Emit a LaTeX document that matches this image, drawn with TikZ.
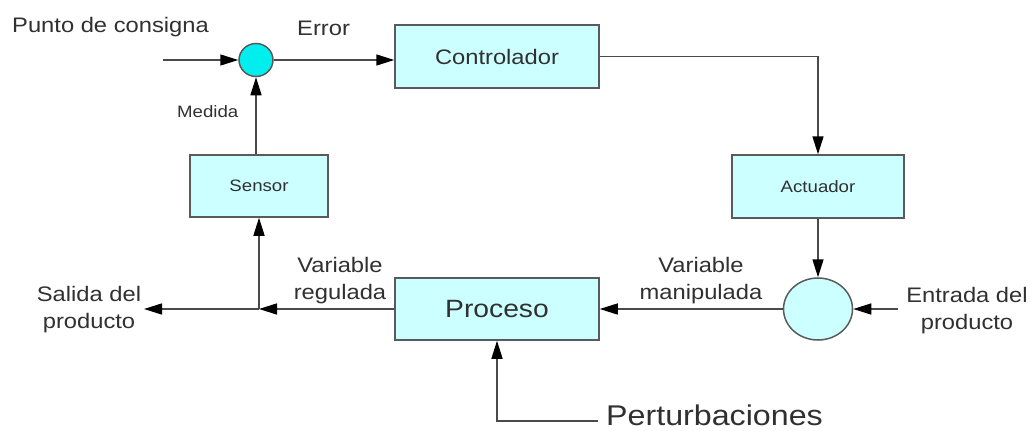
\documentclass[tikz,border=0pt]{standalone}
\usepackage{fontspec}
\setmainfont[FakeStretch=1.13]{Liberation Sans}
\usetikzlibrary{arrows.meta,shapes.geometric}
\definecolor{boxfill}{HTML}{CCFFFF}
\definecolor{sumfill}{HTML}{00EEEE}
\definecolor{edge}{HTML}{5A5A5A}
\definecolor{txt}{HTML}{303030}
\definecolor{wire}{HTML}{4A4A4A}
\begin{document}
\begin{tikzpicture}[x=1pt,y=-1pt,
  blk/.style={draw=edge, line width=1.5pt, fill=boxfill, rectangle, inner sep=0pt, text=txt},
  sumnode/.style={draw=edge, line width=1.5pt, ellipse, inner sep=0pt},
  lbl/.style={text=txt, inner sep=0pt, align=center},
  conn/.style={draw=wire, line width=1.5pt},
  arr/.style={conn, -{Triangle[length=18pt,width=11pt,color=black]}},
  fmain/.style={font=\fontsize{21}{27}\selectfont},
  fsmall/.style={font=\fontsize{16.5}{20}\selectfont}
]
\useasboundingbox (0,0) rectangle (1034,431);
\fill[white] (0,0) rectangle (1034,431);

% blocks
\node[sumnode, fill=sumfill, minimum width=34pt, minimum height=33pt] (sum1) at (256,60) {};
\node[blk, fmain, minimum width=204pt, minimum height=63pt] (ctrl) at (497,56.5) {Controlador};
\node[blk, fsmall, minimum width=172pt, minimum height=63pt] (act) at (818,186.5) {Actuador};
\node[sumnode, fill=boxfill, minimum width=69pt, minimum height=62pt] (sum2) at (818,309) {};
\node[blk, font=\fontsize{25}{30}\selectfont, minimum width=204pt, minimum height=62pt] (proc) at (497,309) {Proceso};
\node[blk, fsmall, minimum width=138pt, minimum height=62pt] (sens) at (259,186) {Sensor};

% labels
\node[lbl, fmain, anchor=base west] (consigna) at (12,32) {Punto de consigna};
\node[lbl, fmain, anchor=base west] (error) at (297,35) {Error};
\node[lbl, fsmall, anchor=base west] (medida) at (177,117) {Medida};
\node[lbl, fmain] (vreg) at (340,281) {Variable\\regulada};
\node[lbl, fmain] (vman) at (701,281) {Variable\\manipulada};
\node[lbl, fmain] (salida) at (89,310) {Salida del\\producto};
\node[lbl, fmain] (entrada) at (967,311) {Entrada del\\producto};
\node[lbl, font=\fontsize{28.5}{32}\selectfont, anchor=base west] (pert) at (606,425.5) {Perturbaciones};

% free ends
\coordinate (in1) at (163,60);
\coordinate (junc) at (259,309);
\coordinate (out) at (144,309);
\coordinate (in2) at (898,309);
\coordinate (pe) at (598,421);

% connectors
\draw[arr] (in1) -- (sum1.west);
\draw[arr] (sum1.east) -- (sum1.east -| ctrl.west);
\draw[arr] (ctrl.east) -| (act.north);
\draw[arr] (act.south) -- (sum2.north);
\draw[arr] (in2) -- (sum2.east);
\draw[arr] (sum2.west) -- (proc.east);
\draw[arr] (proc.west) -- (junc);
\draw[arr] (junc) -- (out);
\draw[arr] (junc) -- (sens.south);
\draw[arr] (sum1.south |- sens.north) -- (sum1.south);
\draw[arr] (pe) -| (proc.south);
\end{tikzpicture}
\end{document}
